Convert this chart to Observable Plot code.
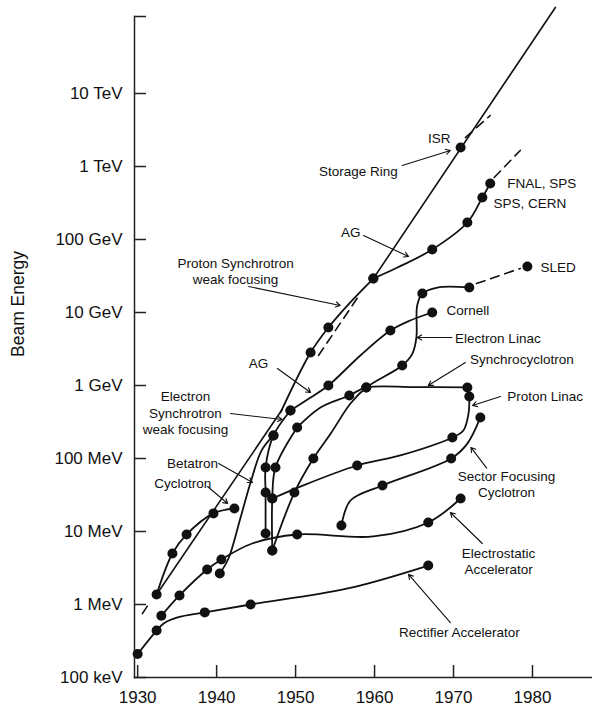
<!DOCTYPE html>
<html><head><meta charset="utf-8">
<script src="https://cdn.jsdelivr.net/npm/d3@7"></script>
<script src="https://cdn.jsdelivr.net/npm/@observablehq/plot@0.6"></script>
<style>body{margin:0;background:#fff}</style>
</head><body><div id="chart"></div>
<script>
// ---- tick data ----
const yearTicks = [1930, 1940, 1950, 1960, 1970, 1980];
const energyTicks = [0.1, 1, 10, 100, 1e3, 1e4, 1e5, 1e6, 1e7]; // MeV
const energyLabels = ["100 keV", "1 MeV", "10 MeV", "100 MeV", "1 GeV", "10 GeV", "100 GeV", "1 TeV", "10 TeV"];
const energyTop = 1.135e8;

// ---- series: [year, beam energy in MeV, 1 = machine dot] ----
const rectifier = [[1930.0,0.21,1],[1932.4,0.44,1],[1933.3,0.55,0],[1935.05,0.664,0],[1938.5,0.78,1],[1944.3,1.0,1],[1956.6,1.66,0],[1966.8,3.42,1]];
const electrostatic = [[1933.0,0.7,1],[1935.3,1.33,1],[1938.8,3.01,1],[1940.6,4.13,1],[1944.5,6.85,0],[1950.2,9.1,1],[1959.85,8.55,0],[1966.8,13.3,1],[1970.9,28.3,1]];
const cyclotron = [[1932.4,1.37,1],[1934.4,5.0,1],[1936.2,9.1,1],[1939.6,17.7,1],[1942.25,20.7,1]];
const betatron = [[1940.4,2.66,1],[1941.5,4.27,0],[1943.0,15.1,0],[1944.3,46.9,0],[1945.7,129,0],[1947.2,207,1]];
const electronSynchrotronA = [[1946.2,9.4,1],[1946.2,34.2,1],[1946.2,75.4,1],[1947.2,207,1],[1949.35,455,1]];
const electronSynchrotronB = [[1947.05,5.5,1],[1947.05,28.3,1],[1947.45,75.4,1],[1950.2,266,1]];
const agElectron = [[1949.35,455,1],[1951.9,685,0],[1954.15,1000,1],[1958.2,2580,0],[1962.0,5660,1],[1964.5,7760,0],[1967.3,10000,1]];
const synchrocyclotron = [[1950.2,266,0],[1953.15,500,0],[1956.8,730,1],[1958.95,940,1],[1965.0,950,0],[1971.75,940,1]];
const electronLinac = [[1947.05,5.5,1],[1949.85,34.2,1],[1952.25,100,1],[1954.45,220,0],[1956.95,566,0],[1958.95,940,1],[1963.5,1880,1],[1964.8,2740,0],[1965.3,4550,0],[1965.4,12500,0],[1966.05,18200,1],[1967.95,22000,0],[1972.0,22000,1]];
const protonLinac = [[1947.05,28.3,1],[1950.6,41.3,0],[1957.8,80.2,1],[1963.25,110,0],[1969.85,194,1],[1971.25,242,0],[1971.9,413,0],[1972.0,707,1]];
const sectorCyclotron = [[1955.8,12.1,1],[1956.95,26.6,0],[1961.0,42.7,1],[1969.7,100,1],[1971.75,160,0],[1973.4,365,1]];
const protonSynchrotron = [[1948.1,427,0],[1951.9,2830,1],[1954.15,6240,1],[1956.9,13700,0],[1959.85,29200,1]];
const agProton = [[1959.85,29200,1],[1962.9,41300,0],[1967.3,72900,1],[1971.75,171000,1],[1973.65,376000,1],[1974.65,585000,1]];
const isr = [[1970.9,1.82e6,1]];
const sled = [[1979.35,42700,1]];

// envelope (straight trend line) pieces
const envelopeSolidLow = [[1932.4,1.37],[1948.3,469]];
const envelopeSolidHigh = [[1959.85,29200],[1982.9,1.51e8]];
const envelopeDashLow = [[1930.6,0.75],[1931.6,1.10]];
const envelopeDashMid = [[1952.9,2580],[1957.95,16560]];
const agProtonDash = [[1975.15,706000],[1978.45,1.66e6]];
const storageDash = [[1971.5,2.49e6],[1974.65,5.0e6]];
const sledDash = [[1972.9,24900],[1978.45,40100]];

// ---- annotations: [text, year, MeV, anchor] ----
const labels = [
  ["ISR",1968.2,2.49e6,"middle"],
  ["Storage Ring",1957.95,8.81e5,"middle"],
  ["FNAL, SPS",1976.8,6.04e5,"start"],
  ["SPS, CERN",1975.05,3.21e5,"start"],
  ["AG",1957.0,1.29e5,"middle"],
  ["Proton Synchrotron\nweak focusing",1942.4,37600,"middle"],
  ["SLED",1981.0,42700,"start"],
  ["Cornell",1969.1,11000,"start"],
  ["Electron Linac",1970.2,4550,"start"],
  ["Synchrocyclotron",1972.1,2340,"start"],
  ["Proton Linac",1976.8,730,"start"],
  ["Sector Focusing\nCyclotron",1976.7,45.5,"middle"],
  ["Electrostatic\nAccelerator",1975.7,4.01,"middle"],
  ["Rectifier Accelerator",1970.75,0.426,"middle"],
  ["AG",1945.3,2070,"middle"],
  ["Electron\nSynchrotron\nweak focusing",1936.05,427,"middle"],
  ["Betatron",1936.95,88.1,"middle"],
  ["Cyclotron",1935.7,46.9,"middle"]
];
// arrows: [fromYear, fromMeV, toYear, toMeV]
const arrows = [
  [1963.5,1.03e6,1969.6,1.66e6],
  [1958.6,1.135e5,1964.3,58500],
  [1944.05,22700,1955.65,12500],
  [1969.8,4550,1965.4,4550],
  [1971.5,2070,1966.8,1000],
  [1975.95,707,1972.4,532],
  [1974.2,74,1972.2,142],
  [1973.65,6.85,1969.6,18.2],
  [1969.6,0.566,1964.3,2.58],
  [1947.7,1710,1951.9,802],
  [1941.75,413,1948.3,342],
  [1940.25,85.5,1944.55,46.9],
  [1938.85,41.3,1941.4,24.2]
];

// ---- build tables ----
const curves = [rectifier, electrostatic, cyclotron, betatron, electronSynchrotronA, electronSynchrotronB,
  agElectron, synchrocyclotron, electronLinac, protonLinac, sectorCyclotron, protonSynchrotron, agProton];
const curveRows = curves.flatMap((s, k) => s.map(([year, mev, dot]) => ({k, year, mev, dot})));
const dotRows = [...curveRows, ...isr.map(([year, mev, dot]) => ({year, mev, dot})), ...sled.map(([year, mev, dot]) => ({year, mev, dot}))].filter(d => d.dot);
const toRows = (segs) => segs.flatMap((s, k) => s.map(([year, mev]) => ({k, year, mev})));
const solidRows = toRows([envelopeSolidLow, envelopeSolidHigh]);
const dashRows = toRows([envelopeDashLow, envelopeDashMid, agProtonDash, storageDash, sledDash]);
const labelMap = new Map(energyTicks.map((t, i) => [t, energyLabels[i]]));

const ink = "#111";
const font = "'Liberation Sans', Arial, Helvetica, sans-serif";
const labelText = (anchor) => Plot.text(labels.filter(d => d[3] === anchor), {
  x: d => d[1], y: d => d[2], text: d => d[0], textAnchor: anchor, fontSize: 13.5, lineHeight: 1.2, fill: ink
});

const chart = Plot.plot({
  width: 592, height: 707,
  marginLeft: 134, marginRight: 0, marginTop: 16, marginBottom: 30,
  style: {fontFamily: font, color: ink, background: "#fff"},
  x: {domain: [1929.6, 1987.6], axis: null},
  y: {type: "log", domain: [0.1, energyTop], axis: null},
  marks: [
    Plot.frame({anchor: "left", stroke: "#222", strokeWidth: 1.5}),
    Plot.frame({anchor: "bottom", stroke: "#222", strokeWidth: 1.5}),
    Plot.tickY([...energyTicks, energyTop], {y: d => d, stroke: "#222", strokeWidth: 1.5, insetRight: 446}),
    Plot.tickX(yearTicks, {x: d => d, stroke: "#222", strokeWidth: 1.5, insetTop: 649}),
    Plot.axisY({ticks: energyTicks, tickSize: 0, tickPadding: 12, fontSize: 17, label: null, tickFormat: d => labelMap.get(d)}),
    Plot.axisX({ticks: yearTicks, tickSize: 0, tickPadding: 13, fontSize: 17, label: null, tickFormat: d => String(d)}),
    Plot.text(["Beam Energy"], {frameAnchor: "left", text: d => d, rotate: -90, dx: -116, dy: 10, fontSize: 17.5, fill: ink}),
    Plot.line(solidRows, {x: "year", y: "mev", z: "k", stroke: ink, strokeWidth: 1.6}),
    Plot.line(dashRows, {x: "year", y: "mev", z: "k", stroke: ink, strokeWidth: 1.6, strokeDasharray: "9,6"}),
    Plot.line(curveRows, {x: "year", y: "mev", z: "k", curve: "catmull-rom", stroke: ink, strokeWidth: 1.8}),
    Plot.dot(dotRows, {x: "year", y: "mev", r: 5, fill: ink, stroke: "none"}),
    Plot.arrow(arrows, {x1: d => d[0], y1: d => d[1], x2: d => d[2], y2: d => d[3], stroke: ink, strokeWidth: 1.1, headLength: 7}),
    labelText("middle"),
    labelText("start")
  ]
});
document.getElementById("chart").appendChild(chart);
</script>
</body></html>
